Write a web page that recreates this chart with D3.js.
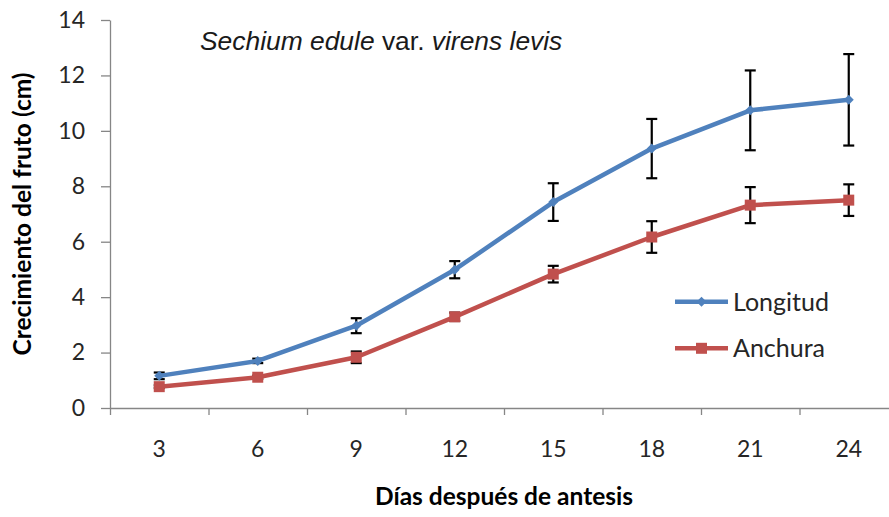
<!DOCTYPE html>
<html>
<head>
<meta charset="utf-8">
<script src="https://cdn.jsdelivr.net/npm/d3@7"></script>
<style>
body { margin: 0; background: #fff; }
</style>
</head>
<body>
<div id="canvas"></div>
<script>
// ----------------------------------------------------------
// DATA -----------------------------------------------------
// ----------------------------------------------------------
var dias = ["3", "6", "9", "12", "15", "18", "21", "24"];
var longitud = [1.16, 1.70, 2.97, 4.99, 7.43, 9.36, 10.74, 11.12];
var longitud_err = [0.12, 0.08, 0.27, 0.31, 0.68, 1.07, 1.44, 1.65];
var anchura = [0.77, 1.11, 1.83, 3.29, 4.83, 6.17, 7.32, 7.50];
var anchura_err = [0.05, 0.06, 0.21, 0.15, 0.30, 0.57, 0.65, 0.57];
var y_ticks = [0, 2, 4, 6, 8, 10, 12, 14];
var series_names = ["Longitud", "Anchura"];

// ----------------------------------------------------------
// STRUCTURE ------------------------------------------------
// ----------------------------------------------------------
var W = 889, H = 517;
var plot_left = 110, plot_right = 898, plot_top = 20, plot_bottom = 408;
var font_cal = "Lato, 'Noto Sans', sans-serif";
var col_axis = "#868686";
var col_text = "#262626";
var col_blue = "#4f81bd";
var col_red = "#c0504d";

var svg = d3.select("#canvas").append("svg")
.attr("width", W)
.attr("height", H)
.style("background-color", "#fff");

// scales
var x = d3.scaleBand()
.domain(dias)
.range([plot_left, plot_right]);

var xEdge = d3.scaleLinear()
.domain([0, dias.length])
.range([plot_left, plot_right]);

var y = d3.scaleLinear()
.domain([0, 14])
.range([plot_bottom, plot_top]);

// ----------------------------------------------------------
// AXES -----------------------------------------------------
// ----------------------------------------------------------
// left
var yAxis = svg.append("g")
.attr("transform", `translate(${plot_left}, 0)`)
.call(d3.axisLeft(y).tickValues(y_ticks).tickSize(9).tickPadding(16).tickSizeOuter(0));

// bottom - tick marks on category edges
var xTicks = svg.append("g")
.attr("transform", `translate(0, ${plot_bottom})`)
.call(d3.axisBottom(xEdge).tickValues(d3.range(0, dias.length + 1)).tickSize(7).tickSizeOuter(0).tickFormat(""));

// bottom - labels in category centers
var xAxis = svg.append("g")
.attr("transform", `translate(0, ${plot_bottom})`)
.call(d3.axisBottom(x).tickSize(0).tickPadding(33));
xAxis.select(".domain").remove();

[yAxis, xTicks].forEach(function (g) {
g.select(".domain").attr("stroke", col_axis).attr("stroke-width", 1.3);
g.selectAll(".tick line").attr("stroke", col_axis).attr("stroke-width", 1.3);
});
[yAxis, xAxis].forEach(function (g) {
g.selectAll(".tick text")
.attr("fill", col_text)
.style("font-family", font_cal)
.style("font-size", "23px");
});

// ----------------------------------------------------------
// SERIES ---------------------------------------------------
// ----------------------------------------------------------
var series = [
{ name: series_names[0], values: longitud, err: longitud_err, color: col_blue,
symbol: d3.symbol().type(d3.symbolSquare).size(50), rotate: 45 },
{ name: series_names[1], values: anchura, err: anchura_err, color: col_red,
symbol: d3.symbol().type(d3.symbolSquare).size(121), rotate: 0 }
];

var cx = (d) => x(d) + x.bandwidth() / 2;
var line = d3.line()
.x((d, i) => cx(dias[i]))
.y((d) => y(d));

// error bars (behind the lines)
var errGroup = svg.append("g").attr("class", "errors");
series.forEach(function (s) {
var g = errGroup.selectAll(null)
.data(s.values.map((v, i) => ({ day: dias[i], v: v, e: s.err[i] })))
.enter()
.append("g");
g.append("line")
.attr("x1", (d) => cx(d.day)).attr("x2", (d) => cx(d.day))
.attr("y1", (d) => y(d.v + d.e)).attr("y2", (d) => y(d.v - d.e));
g.append("line")
.attr("x1", (d) => cx(d.day) - 5.5).attr("x2", (d) => cx(d.day) + 5.5)
.attr("y1", (d) => y(d.v + d.e)).attr("y2", (d) => y(d.v + d.e));
g.append("line")
.attr("x1", (d) => cx(d.day) - 5.5).attr("x2", (d) => cx(d.day) + 5.5)
.attr("y1", (d) => y(d.v - d.e)).attr("y2", (d) => y(d.v - d.e));
});
errGroup.selectAll("line")
.attr("stroke", "#000")
.attr("stroke-width", 2.2);

// lines + markers
series.forEach(function (s) {
svg.append("path")
.datum(s.values)
.attr("fill", "none")
.attr("stroke", s.color)
.attr("stroke-width", 4.5)
.attr("stroke-linejoin", "round")
.attr("d", line);

svg.append("g").selectAll("path")
.data(s.values)
.enter()
.append("path")
.attr("d", s.symbol)
.attr("fill", s.color)
.attr("transform", (d, i) => `translate(${cx(dias[i])}, ${y(d)}) rotate(${s.rotate})`);
});

// ----------------------------------------------------------
// TEXT -----------------------------------------------------
// ----------------------------------------------------------
// title
var title = svg.append("text")
.attr("x", 200)
.attr("y", 50)
.attr("fill", "#1a1a1a")
.style("font-family", "'Liberation Sans', Arial, sans-serif")
.style("font-size", "26.4px");
title.append("tspan").style("font-style", "italic").text("Sechium edule");
title.append("tspan").text(" var. ");
title.append("tspan").style("font-style", "italic").text("virens levis");

// y label
svg.append("text")
.attr("transform", `translate(31, ${(plot_top + plot_bottom) / 2}) rotate(-90)`)
.attr("text-anchor", "middle")
.attr("fill", "#000")
.style("font-family", font_cal)
.style("font-weight", "bold")
.style("font-size", "24.5px")
.text("Crecimiento del fruto (cm)");

// x label
svg.append("text")
.attr("x", (plot_left + plot_right) / 2)
.attr("y", 505)
.attr("text-anchor", "middle")
.attr("fill", "#000")
.style("font-family", font_cal)
.style("font-weight", "bold")
.style("font-size", "24.5px")
.text("Días después de antesis");

// legend
var legend = svg.append("g").attr("class", "legend");
var legend_y = [301.7, 348.3];
series.forEach(function (s, i) {
var g = legend.append("g").attr("transform", `translate(675, ${legend_y[i]})`);
g.append("line")
.attr("x1", 0).attr("x2", 53)
.attr("stroke", s.color)
.attr("stroke-width", 4.5);
g.append("path")
.attr("d", s.symbol)
.attr("fill", s.color)
.attr("transform", `translate(26.5, 0) rotate(${s.rotate})`);
g.append("text")
.attr("x", 58)
.attr("dy", "0.36em")
.attr("fill", col_text)
.style("font-family", font_cal)
.style("font-size", "25px")
.text(s.name);
});
</script>
</body>
</html>
